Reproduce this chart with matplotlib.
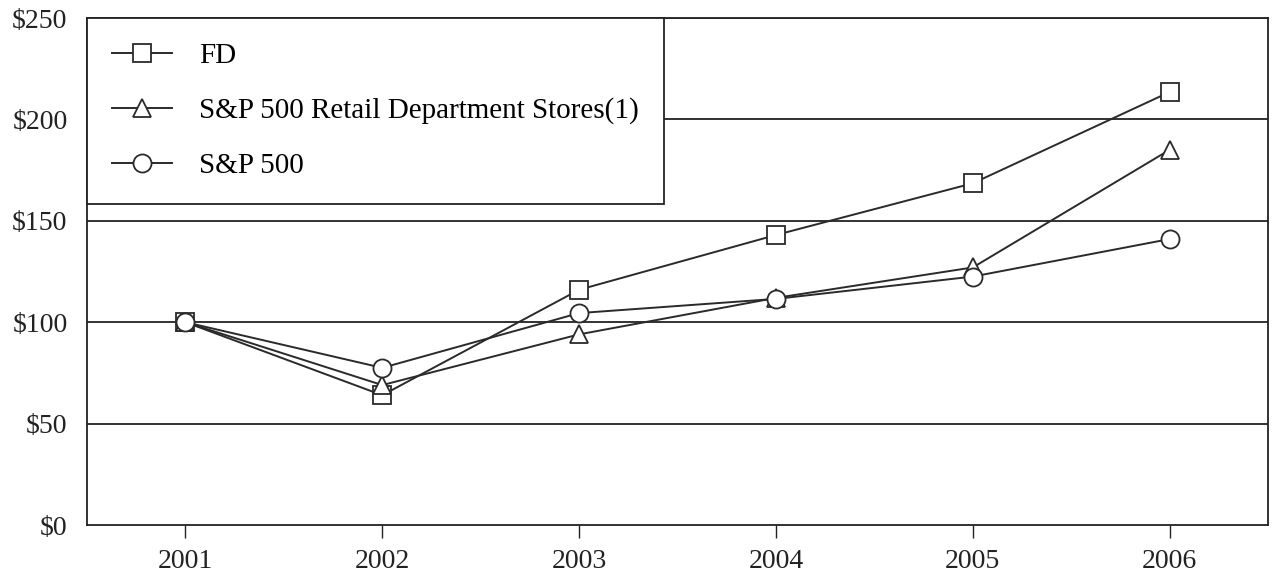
import matplotlib
matplotlib.use("Agg")
import matplotlib.pyplot as plt

plt.rcParams['font.family'] = ['Liberation Serif', 'DejaVu Serif']

years = [2001, 2002, 2003, 2004, 2005, 2006]
fd = [100, 64, 116, 143, 168.5, 213.5]
retail = [100, 69, 94, 112, 127, 185]
sp500 = [100, 77.5, 104.5, 111.5, 122.5, 141]

labels = ['FD', 'S&P 500 Retail Department Stores(1)', 'S&P 500']
yticks = [0, 50, 100, 150, 200, 250]

fig = plt.figure(figsize=(12.72, 5.77), dpi=100)
ax = fig.add_axes([0.0684, 0.0901, 0.9285, 0.8787])

lc = '#2a2a2a'
style = dict(color=lc, lw=1.4, markersize=13, markerfacecolor='white',
             markeredgecolor=lc, markeredgewidth=1.3)
ax.plot(years, fd, marker='s', label=labels[0], zorder=3, **style)
ax.plot(years, retail, marker='^', label=labels[1], zorder=3, **style)
ax.plot(years, sp500, marker='o', label=labels[2], zorder=3, **style)

ax.set_xlim(2000.5, 2006.5)
ax.set_ylim(0, 250)
ax.set_xticks(years)
ax.set_yticks(yticks)
ax.set_yticklabels(['$%d' % v for v in yticks])
for v in yticks[1:]:
    ax.axhline(v, color='#222222', lw=1.3, zorder=1)

for s in ax.spines.values():
    s.set_color('#222222')
    s.set_linewidth(1.3)
ax.tick_params(axis='y', length=0, pad=14, labelsize=20, colors='#222222')
ax.tick_params(axis='x', length=9, width=1, pad=8, labelsize=20, colors='#222222')

leg = ax.legend(loc='upper left', bbox_to_anchor=(0, 1), borderaxespad=0,
                fancybox=False, framealpha=1, edgecolor='#222222',
                fontsize=21, labelspacing=0.97, handlelength=2.05,
                handletextpad=0.95, borderpad=0.85)
leg.get_frame().set_linewidth(1.3)
leg.set_zorder(5)
for h in leg.legend_handles:
    h.set_markersize(13)

fig.savefig('out.png', dpi=100)
